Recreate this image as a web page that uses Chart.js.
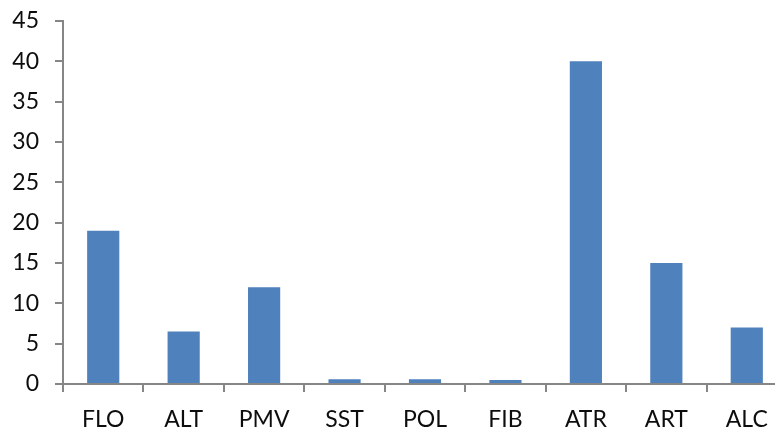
<!DOCTYPE html>
<html>
<head>
<meta charset="utf-8">
<script src="https://cdn.jsdelivr.net/npm/chart.js@4/dist/chart.umd.min.js"></script>
<style>
  html, body { margin: 0; padding: 0; background: #ffffff; overflow: hidden; }
  #wrap { width: 787px; height: 427px; }
</style>
</head>
<body>
<div id="wrap"><canvas id="chart" width="787" height="427"></canvas></div>
<script>
// Category codes along the horizontal axis
const categories = ['FLO', 'ALT', 'PMV', 'SST', 'POL', 'FIB', 'ATR', 'ART', 'ALC'];
// Value for each category
const values = [19, 6.5, 12, 0.6, 0.6, 0.5, 40, 15, 7];
// Vertical axis range and step
const yMin = 0;
const yMax = 45;
const yStep = 5;

const axisGrey = '#868686';
const barBlue = '#4F81BD';
const fontFamily = 'Lato, "Open Sans", "Liberation Sans", sans-serif';

new Chart(document.getElementById('chart'), {
  type: 'bar',
  data: {
    labels: categories,
    datasets: [{
      data: values,
      backgroundColor: barBlue,
      borderWidth: 0,
      barPercentage: 0.8,
      categoryPercentage: 0.5
    }]
  },
  options: {
    responsive: false,
    animation: false,
    devicePixelRatio: 1,
    layout: { padding: { top: 21, left: 0, right: 0, bottom: 0 } },
    plugins: {
      legend: { display: false },
      tooltip: { enabled: false }
    },
    scales: {
      x: {
        offset: true,
        grid: {
          offset: true,
          drawOnChartArea: false,
          drawTicks: true,
          tickLength: 8,
          color: axisGrey,
          lineWidth: 2
        },
        border: { display: true, color: axisGrey, width: 2 },
        ticks: {
          color: '#0d0d0d',
          padding: 14,
          maxRotation: 0,
          font: { family: fontFamily, size: 23 }
        },
        afterFit(scale) {
          scale.height = 43;
          scale.paddingLeft = 0;
          scale.paddingRight = 0;
        }
      },
      y: {
        min: yMin,
        max: yMax,
        grid: {
          drawOnChartArea: false,
          drawTicks: true,
          tickLength: 8,
          color: axisGrey,
          lineWidth: 2
        },
        border: { display: true, color: axisGrey, width: 2 },
        ticks: {
          stepSize: yStep,
          color: '#0d0d0d',
          padding: 16,
          font: { family: fontFamily, size: 23 }
        },
        afterFit(scale) {
          scale.width = 63;
          scale.paddingTop = 0;
          scale.paddingBottom = 0;
        }
      }
    }
  }
});
</script>
</body>
</html>
